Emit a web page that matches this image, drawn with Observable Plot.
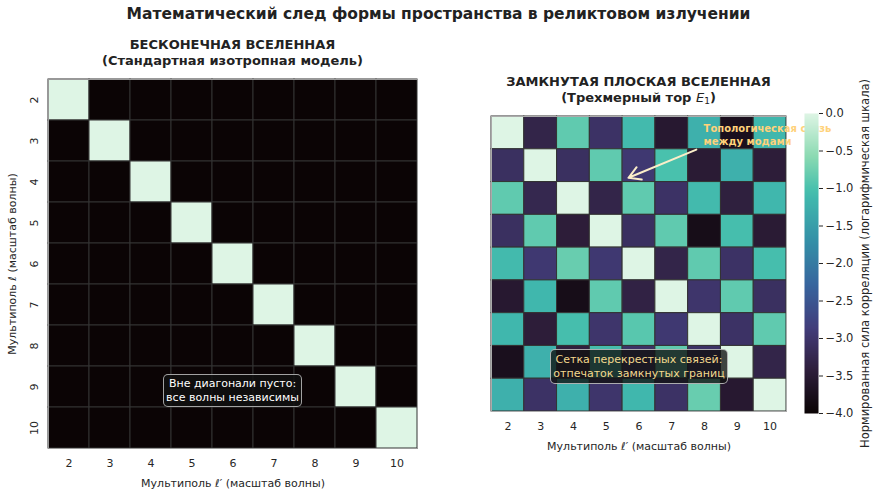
<!DOCTYPE html>
<html>
<head>
<meta charset="utf-8">
<script src="https://cdn.jsdelivr.net/npm/d3@7"></script>
<script src="https://cdn.jsdelivr.net/npm/@observablehq/plot@0.6"></script>
<style>
  html, body { margin: 0; padding: 0; background: #fff; }
  body { font-family: "DejaVu Sans", sans-serif; color: #262626; }
  #wrap { position: relative; width: 877px; height: 496px; overflow: hidden; }
  #wrap > svg { position: absolute; left: 0; top: 0; }
  .txt { position: absolute; text-align: center; white-space: nowrap; }
  .box { position: absolute; box-sizing: border-box; border-radius: 5px; text-align: center;
         font-size: 11px; line-height: 13.3px; white-space: nowrap; display: flex;
         flex-direction: column; justify-content: center; }
</style>
</head>
<body>
<div id="wrap">
  <div class="txt" style="left:0;width:877px;top:4px;font-size:15.5px;line-height:20px;font-weight:bold;color:#222;">Математический след формы пространства в реликтовом излучении</div>
  <div class="txt" style="left:48px;width:369px;top:37px;font-size:13px;line-height:16px;font-weight:bold;color:#222;">БЕСКОНЕЧНАЯ ВСЕЛЕННАЯ<br>(Стандартная изотропная модель)</div>
  <div class="txt" style="left:491px;width:295px;top:74px;font-size:13px;line-height:16px;font-weight:bold;color:#222;">ЗАМКНУТАЯ ПЛОСКАЯ ВСЕЛЕННАЯ<br>(Трехмерный тор <i style="font-weight:normal;">E</i><span style="font-size:9px;font-weight:normal;vertical-align:-2px;">1</span>)</div>
</div>
<script>
// ---- data ----
const multipoles = [2, 3, 4, 5, 6, 7, 8, 9, 10];

// Infinite universe: log10 normalized correlation (diagonal only)
const infiniteRows = [
  [0, -4, -4, -4, -4, -4, -4, -4, -4],
  [-4, 0, -4, -4, -4, -4, -4, -4, -4],
  [-4, -4, 0, -4, -4, -4, -4, -4, -4],
  [-4, -4, -4, 0, -4, -4, -4, -4, -4],
  [-4, -4, -4, -4, 0, -4, -4, -4, -4],
  [-4, -4, -4, -4, -4, 0, -4, -4, -4],
  [-4, -4, -4, -4, -4, -4, 0, -4, -4],
  [-4, -4, -4, -4, -4, -4, -4, 0, -4],
  [-4, -4, -4, -4, -4, -4, -4, -4, 0]
];

// 3-torus E1: log10 normalized correlation
const torusRows = [
  [0, -3.3, -0.85, -3.05, -1.1, -3.55, -1.25, -3.75, -1.15],
  [-3.1, 0, -3.1, -0.85, -2.95, -1.0, -3.5, -1.25, -3.45],
  [-0.85, -3.25, 0, -3.3, -0.85, -3.05, -1.1, -3.4, -1.15],
  [-3.1, -0.85, -3.45, 0, -3.1, -0.85, -3.8, -1.05, -3.5],
  [-1.1, -2.95, -0.8, -2.95, 0, -3.3, -0.85, -3.05, -1.05],
  [-3.55, -1.15, -3.8, -0.85, -3.35, 0, -3.0, -0.85, -3.1],
  [-1.15, -3.45, -1.05, -3.0, -0.9, -2.95, 0, -3.05, -0.85],
  [-3.75, -1.25, -3.4, -1.05, -3.05, -0.85, -3.05, 0, -3.3],
  [-1.25, -3.05, -1.25, -3.0, -1.15, -3.05, -0.8, -3.55, 0]
];

const colorbarTicks = [0, -0.5, -1, -1.5, -2, -2.5, -3, -3.5, -4];
const colorDomain = [-4, 0];

// ---- colormap (seaborn "mako") ----
const makoT = [0, 1/7, 0.25, 2/7, 3/7, 0.5, 4/7, 5/7, 0.75, 6/7, 1];
const makoC = ["#0B0405", "#2e1e3b", "#3E356B", "#413d7b", "#37659e", "#357BA2", "#348fa7", "#40b7ad", "#49C1AD", "#8bdab2", "#DEF5E5"];
const makoScale = d3.scaleLinear().domain(makoT).range(makoC).interpolate(d3.interpolateRgb).clamp(true);
const mako = t => makoScale(t);

const toCells = rows => rows.flatMap((r, i) => r.map((v, j) => ({l: multipoles[i], lp: multipoles[j], v})));
const infiniteCells = toCells(infiniteRows);
const torusCells = toCells(torusRows);

const baseStyle = {background: "transparent", fontFamily: "DejaVu Sans", fontSize: "11px", color: "#262626", overflow: "visible"};
const colorOpt = {type: "linear", domain: colorDomain, interpolate: mako};
const cellMark = cells => Plot.rect(cells, {
  x1: d => d.lp - 0.5, x2: d => d.lp + 0.5,
  y1: d => d.l - 0.5, y2: d => d.l + 0.5,
  fill: "v", stroke: "#333", strokeWidth: 1
});

const wrap = document.getElementById("wrap");

// Left: infinite universe
const left = Plot.plot({
  width: 877, height: 496,
  marginLeft: 48, marginRight: 460, marginTop: 79, marginBottom: 48,
  style: baseStyle,
  x: {domain: [1.5, 10.5], ticks: multipoles, tickSize: 0, tickPadding: 11,
      label: "Мультиполь ℓ′ (масштаб волны)", labelAnchor: "center", labelOffset: 38, labelArrow: "none"},
  y: {domain: [1.5, 10.5], reverse: true, ticks: multipoles, tickSize: 0, tickPadding: 11, tickRotate: -90,
      label: "Мультиполь ℓ (масштаб волны)", labelAnchor: "center", labelOffset: 40, labelArrow: "none"},
  color: colorOpt,
  marks: [cellMark(infiniteCells), Plot.frame({stroke: "#999"})]
});
wrap.appendChild(left);

// Right: 3-torus
const right = Plot.plot({
  width: 877, height: 496,
  marginLeft: 491, marginRight: 91, marginTop: 116, marginBottom: 85,
  style: baseStyle,
  x: {domain: [1.5, 10.5], ticks: multipoles, tickSize: 0, tickPadding: 11,
      label: "Мультиполь ℓ′ (масштаб волны)", labelAnchor: "center", labelOffset: 38, labelArrow: "none"},
  y: {domain: [1.5, 10.5], reverse: true, axis: null},
  color: colorOpt,
  marks: [
    cellMark(torusCells),
    Plot.frame({stroke: "#aaa"}),
    Plot.arrow([0], {x1: 7.75, y1: 2.51, x2: 5.68, y2: 3.37, stroke: "#fbeec9", strokeWidth: 2, headLength: 10, bend: 0}),
    Plot.text(["Топологическая связь\nмежду модами"], {x: 7.97, y: 2.03, text: d => d, textAnchor: "start", lineAnchor: "middle",
      fill: "#ffd27a", fontWeight: "bold", fontSize: 10, lineHeight: 1.3})
  ]
});
wrap.appendChild(right);

// Annotation boxes
const leftBox = document.createElement("div");
leftBox.className = "box";
leftBox.style.cssText += "left:163px;top:374px;width:139px;height:33px;background:rgba(17,17,17,0.85);border:1px solid rgba(200,200,200,0.8);color:#fff;";
leftBox.innerHTML = "Вне диагонали пусто:<br>все волны независимы";
wrap.appendChild(leftBox);

const rightBox = document.createElement("div");
rightBox.className = "box";
rightBox.style.cssText += "left:550px;top:349px;width:178px;height:35px;background:rgba(17,17,17,0.78);border:1px solid rgba(210,210,210,0.8);color:#f3d98e;";
rightBox.innerHTML = "Сетка перекрестных связей:<br>отпечаток замкнутых границ";
wrap.appendChild(rightBox);

// Colorbar
const cbar = Plot.plot({
  width: 877, height: 496,
  marginLeft: 804, marginRight: 59, marginTop: 113, marginBottom: 83,
  style: {...baseStyle, fontSize: "11.5px"},
  x: {domain: [0, 1], axis: null},
  y: {domain: colorDomain, ticks: colorbarTicks, tickFormat: d3.format(".1f"), tickSize: 4, tickPadding: 3, axis: "right",
      label: "Нормированная сила корреляции (логарифмическая шкала)", labelAnchor: "center", labelOffset: 50, labelArrow: "none"},
  color: colorOpt,
  marks: [
    Plot.raster({x1: 0, x2: 1, y1: colorDomain[0], y2: colorDomain[1], width: 1, height: 300, fill: (x, y) => y, imageRendering: "auto"})
  ]
});
wrap.appendChild(cbar);
</script>
</body>
</html>
